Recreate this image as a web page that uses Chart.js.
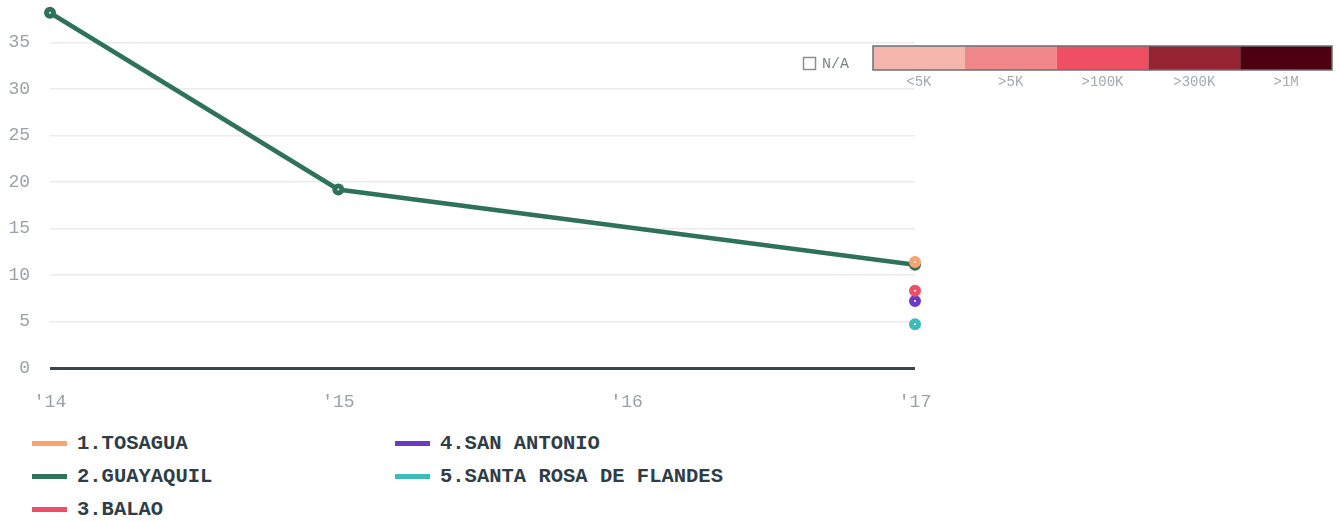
<!DOCTYPE html>
<html>
<head>
<meta charset="utf-8">
<script src="https://cdn.jsdelivr.net/npm/chart.js@4.4.1/dist/chart.umd.min.js"></script>
<style>
  html, body { margin: 0; padding: 0; background: #fff; }
  #wrap { position: relative; width: 1340px; height: 521px; }
  #chart { position: absolute; left: 0; top: 0; }
  #legend {
    position: absolute; left: 32px; top: 427px;
    display: grid; grid-template-columns: 363px 400px; grid-auto-flow: column;
    grid-template-rows: repeat(3, 33px);
    font-family: "Liberation Mono", monospace; font-weight: bold; font-size: 20.5px;
    color: #2f3e46;
  }
  .item { display: flex; align-items: center; height: 33px; }
  .swatch { width: 35px; height: 5px; margin-right: 10px; }
</style>
</head>
<body>
<div id="wrap">
  <canvas id="chart" width="1340" height="420"></canvas>
  <div id="legend"></div>
</div>
<script>
// categories and values
const years = ["'14", "'15", "'16", "'17"];
const names = ["1.TOSAGUA", "2.GUAYAQUIL", "3.BALAO", "4.SAN ANTONIO", "5.SANTA ROSA DE FLANDES"];
const colors = ["#fba36f", "#2e7359", "#ef4f66", "#6a3ac6", "#3cbbb9"];
const tosagua = [null, null, null, 11.4];
const guayaquil = [38.2, 19.2, null, 11.1];
const balao = [null, null, null, 8.3];
const sanAntonio = [null, null, null, 7.2];
const santaRosa = [null, null, null, 4.7];
const seriesValues = [tosagua, guayaquil, balao, sanAntonio, santaRosa];

// colour-scale legend (top right)
const scaleLabels = ["<5K", ">5K", ">100K", ">300K", ">1M"];
const scaleColors = ["#f4b5ac", "#f08788", "#ef4f63", "#962331", "#4d000f"];

const tickFont = { family: "Liberation Mono", size: 18 };

const datasets = names.map((n, i) => ({
  label: n,
  data: seriesValues[i],
  borderColor: colors[i],
  backgroundColor: "#ffffff",
  pointBorderColor: colors[i],
  pointBackgroundColor: "#ffffff",
  borderWidth: 4.5,
  pointRadius: 3.5,
  pointBorderWidth: 5,
  pointHoverRadius: 3.5,
  spanGaps: true,
  clip: false,
  tension: 0
}));

const scaleLegend = {
  id: "scaleLegend",
  afterDraw(chart) {
    const ctx = chart.ctx;
    ctx.save();
    // N/A box
    ctx.strokeStyle = "#8a8f92";
    ctx.lineWidth = 1.5;
    ctx.strokeRect(803.5, 57.5, 12, 12);
    ctx.fillStyle = "#7d8488";
    ctx.font = "15px 'Liberation Mono'";
    ctx.textBaseline = "middle";
    ctx.textAlign = "left";
    ctx.fillText("N/A", 822, 64);
    const x0 = 873, w = 91.8, y0 = 46, h = 24;
    scaleColors.forEach((c, i) => {
      ctx.fillStyle = c;
      ctx.fillRect(x0 + i * w, y0, w, h);
    });
    ctx.strokeStyle = "#6b7073";
    ctx.lineWidth = 1.5;
    ctx.strokeRect(x0, y0, w * scaleColors.length, h);
    ctx.fillStyle = "#a3a9ad";
    ctx.font = "14px 'Liberation Mono'";
    ctx.textAlign = "center";
    scaleLabels.forEach((t, i) => ctx.fillText(t, x0 + i * w + w / 2, 82));
    ctx.restore();
  }
};

new Chart(document.getElementById("chart"), {
  type: "line",
  data: { labels: years, datasets: datasets },
  plugins: [scaleLegend],
  options: {
    responsive: false,
    animation: false,
    layout: { padding: { left: 8, right: 425, top: 10, bottom: 0 } },
    plugins: { legend: { display: false }, tooltip: { enabled: false } },
    elements: { point: { hitRadius: 0 } },
    scales: {
      x: {
        offset: false,
        grid: { display: false },
        border: { display: false },
        ticks: { color: "#9aa2a6", font: tickFont, padding: 15, maxRotation: 0 },
        afterFit: s => { s.height = 52; s.paddingLeft = 0; s.paddingRight = 0; }
      },
      y: {
        min: 0,
        max: 38.5,
        border: { display: false },
        grid: {
          drawTicks: false,
          color: c => c.tick.value === 0 ? "#37474f" : "#ebebeb",
          lineWidth: c => c.tick.value === 0 ? 3 : 1.5
        },
        ticks: { stepSize: 5, color: "#9aa2a6", font: tickFont, padding: 20 },
        afterBuildTicks: s => { s.ticks = s.ticks.filter(t => t.value % 5 === 0); },
        afterFit: s => { s.width = 42; s.paddingTop = 0; s.paddingBottom = 0; }
      }
    }
  }
});

// bottom legend, ordered in columns
const legend = document.getElementById("legend");
names.forEach((n, i) => {
  const item = document.createElement("div");
  item.className = "item";
  const sw = document.createElement("span");
  sw.className = "swatch";
  sw.style.background = colors[i];
  const tx = document.createElement("span");
  tx.textContent = n;
  item.appendChild(sw);
  item.appendChild(tx);
  legend.appendChild(item);
});
</script>
</body>
</html>
